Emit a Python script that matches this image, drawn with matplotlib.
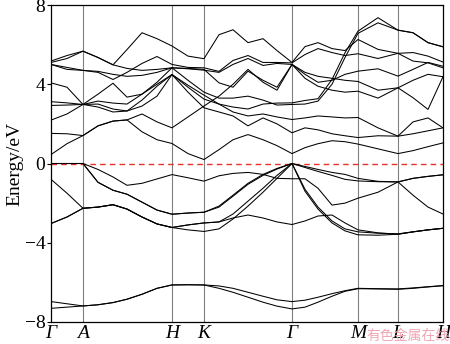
import matplotlib

matplotlib.use("Agg")
import matplotlib.pyplot as plt
import numpy as np

plt.rcParams.update({"font.family": "serif",
                     "font.serif": ["Liberation Serif", "DejaVu Serif"],
                     "mathtext.fontset": "stix"})

# high-symmetry path (path length, arbitrary units)
HS_K = [0.0, 0.32, 1.21, 1.53, 2.41, 3.07, 3.47, 3.92]
HS_LABELS = ["Γ", "A", "H", "K", "Γ", "M", "L", "H"]

# sampling points along the path
K_GRID = [0.0, 0.16, 0.32, 0.47, 0.62, 0.76, 0.91, 1.06, 1.21, 1.37, 1.53,
          1.68, 1.82, 1.97, 2.12, 2.26, 2.41, 2.54, 2.67, 2.81, 2.94, 3.07,
          3.27, 3.47, 3.62, 3.77, 3.92]

# lower valence bands (eV)
low1 = [-6.97, -7.08, -7.19, -7.13, -7.02, -6.85, -6.6, -6.3, -6.13, -6.12, -6.13,
        -6.18, -6.3, -6.5, -6.7, -6.88, -6.97, -6.9, -6.75, -6.57, -6.42, -6.3,
        -6.32, -6.33, -6.28, -6.22, -6.16]
low2 = [-7.31, -7.25, -7.19, -7.13, -7.02, -6.85, -6.6, -6.3, -6.13, -6.12, -6.13,
        -6.3, -6.5, -6.75, -7.0, -7.2, -7.34, -7.25, -7.0, -6.7, -6.45, -6.32,
        -6.33, -6.35, -6.3, -6.23, -6.17]

# upper valence bands
va = [0, 0, 0, -0.3, -0.68, -1.1, -1.0, -0.78, -0.56, -0.72, -0.89,
      -0.62, -0.5, -0.45, -0.55, -0.75, -0.77, -0.77, -1.25, -2.1, -2.0, -1.75,
      -1.45, -0.93, -1.6, -2.2, -2.55]
vb1 = [0, 0, 0, -0.95, -1.35, -1.55, -1.95, -2.35, -2.56, -2.5, -2.46,
       -2.2, -1.65, -1.05, -0.6, -0.28, 0, -0.15, -0.3, -0.45, -0.55, -0.75,
       -0.9, -0.93, -0.75, -0.65, -0.57]
vb2 = [0, 0, 0, -0.95, -1.35, -1.55, -1.95, -2.35, -2.56, -2.5, -2.46,
       -2.15, -1.6, -1.0, -0.55, -0.25, 0, -0.2, -0.4, -0.6, -0.8, -0.88,
       -0.92, -0.93, -0.75, -0.65, -0.57]
vc = [-0.8, -1.5, -2.26, -2.2, -2.08, -2.3, -2.7, -3.05, -3.23, -3.1, -3.0,
      -2.95, -2.55, -1.9, -1.25, -0.6, 0, -1.3, -2.2, -2.9, -3.3, -3.45,
      -3.52, -3.55, -3.45, -3.35, -3.27]
vd = [-3.03, -2.7, -2.26, -2.2, -2.08, -2.3, -2.7, -3.05, -3.23, -3.35, -3.43,
      -3.3, -2.8, -2.15, -1.45, -0.75, 0, -1.4, -2.3, -3.0, -3.4, -3.6,
      -3.62, -3.57, -3.45, -3.35, -3.27]
vf = [-3.03, -2.7, -2.26, -2.2, -2.08, -2.3, -2.7, -3.05, -3.23, -3.1, -3.0,
      -2.95, -2.75, -2.6, -2.75, -2.95, -3.08, -2.9, -2.65, -2.6, -3.0, -3.35,
      -3.5, -3.57, -3.45, -3.35, -3.27]

# conduction bands
c1 = [5.17, 5.45, 5.67, 5.35, 4.98, 5.75, 6.6, 6.3, 5.93, 5.42, 5.29,
      6.5, 6.75, 6.1, 6.3, 5.7, 5.1, 5.9, 6.1, 5.8, 5.7, 6.26,
      5.76, 5.56, 5.6, 5.42, 5.12]
c2 = [5.0, 4.75, 4.7, 4.6, 4.24, 4.6, 5.05, 5.4, 5.0, 4.85, 4.83,
      4.65, 5.2, 5.45, 5.1, 5.1, 5.08, 5.5, 5.8, 5.6, 5.45, 5.54,
      5.3, 5.56, 5.17, 5.08, 4.83]
c3 = [5.1, 5.3, 5.67, 5.35, 4.98, 4.8, 4.7, 4.75, 4.83, 4.78, 4.71,
      4.6, 5.0, 5.3, 4.95, 5.05, 5.0, 4.5, 4.1, 4.2, 4.5, 4.66,
      4.78, 4.41, 4.75, 5.1, 4.91]
c4 = [5.0, 4.85, 4.7, 4.65, 4.5, 4.4, 4.45, 4.6, 4.83, 4.8, 4.75,
      4.07, 3.85, 4.66, 4.2, 3.85, 5.0, 4.6, 4.4, 4.3, 4.2, 4.14,
      3.7, 3.82, 3.32, 2.73, 4.38]
c5 = [1.52, 1.5, 1.41, 1.9, 2.14, 2.2, 2.5, 2.1, 1.8, 2.35, 2.9,
      3.4, 4.0, 4.75, 4.1, 3.7, 5.0, 4.3, 3.9, 3.7, 3.6, 3.65,
      3.3, 3.82, 4.2, 4.5, 4.38]
c6 = [4.07, 3.85, 2.98, 3.5, 4.05, 3.35, 3.5, 4.1, 4.83, 4.2, 3.6,
      3.3, 3.3, 3.4, 3.2, 2.95, 2.98, 3.0, 3.15, 4.0, 5.35, 6.57,
      7.1, 6.73, 6.6, 6.1, 5.89]
c7 = [3.12, 3.06, 2.98, 3.15, 3.05, 3.0, 3.5, 4.0, 4.49, 3.95, 3.45,
      3.0, 2.85, 2.75, 3.0, 3.05, 3.06, 3.18, 3.27, 4.24, 5.59, 6.68,
      7.36, 6.73, 6.6, 6.1, 5.89]
c8 = [2.93, 2.95, 2.98, 3.0, 2.75, 2.65, 2.9, 3.4, 4.49, 3.85, 3.25,
      3.0, 2.6, 2.4, 2.5, 2.35, 2.22, 2.3, 2.4, 2.35, 2.3, 2.32,
      1.8, 1.38, 2.1, 2.3, 1.8]
c9 = [2.19, 2.5, 2.98, 2.85, 2.6, 2.65, 3.2, 3.9, 4.49, 3.6, 2.81,
      2.6, 2.4, 1.9, 2.3, 2.0, 1.55, 1.8, 1.7, 1.5, 1.4, 1.31,
      1.4, 1.38, 1.5, 1.65, 1.8]
c10 = [0.45, 1.0, 1.41, 1.9, 2.14, 2.2, 1.6, 1.2, 1.01, 0.5, 0.2,
       0.7, 1.2, 1.46, 1.2, 0.9, 0.5, 0.8, 1.0, 1.15, 1.1, 0.98,
       0.74, 0.5, 0.65, 0.85, 1.04]

BANDS = [low1, low2, va, vb1, vb2, vc, vd, vf,
         c1, c2, c3, c4, c5, c6, c7, c8, c9, c10]

fig = plt.figure(figsize=(4.5, 3.44), dpi=100)
ax = fig.add_axes([51 / 450, 22 / 344, 392 / 450, 317 / 344])

for k in HS_K[1:-1]:
    ax.axvline(k, color="#808080", lw=0.8, zorder=1)
ax.axhline(0, color="#e8302a", lw=1.0, ls=(0, (4, 3)), zorder=2)
for band in BANDS:
    ax.plot(K_GRID, band, color="black", lw=0.75, zorder=3)

ax.set_xlim(HS_K[0], HS_K[-1])
ax.set_ylim(-8, 8)
ax.set_xticks(HS_K)
ax.set_xticklabels(HS_LABELS, fontstyle="italic", fontsize=14)
ax.tick_params(axis="x", length=0, pad=2)
ax.set_yticks([-8, -4, 0, 4, 8])
ax.set_yticklabels(["\u22128", "\u22124", "0", "4", "8"], fontsize=14)
ax.tick_params(axis="y", direction="out", length=3, width=0.8, pad=1)
ax.set_ylabel("Energy/eV", fontsize=14, labelpad=1)
for sp in ax.spines.values():
    sp.set_linewidth(0.9)

# site watermark
fig.text(366 / 450, 1 - 336 / 344, "有色金属在线", color="#f2a6b4", fontsize=10,
         family=["Noto Sans CJK SC", "DejaVu Sans"], va="center", ha="left")

fig.savefig("out.png", dpi=100)
